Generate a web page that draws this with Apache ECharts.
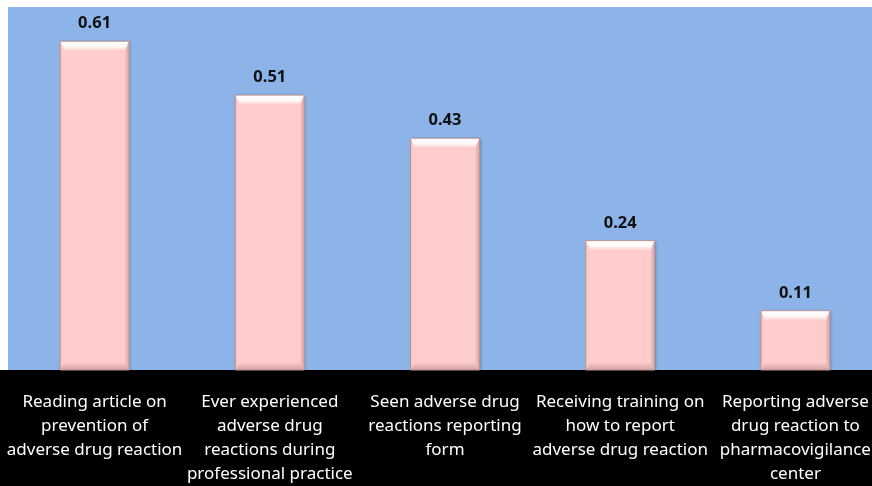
<!DOCTYPE html>
<html>
<head>
<meta charset="utf-8">
<title>Adverse drug reaction awareness</title>
<script src="https://cdn.jsdelivr.net/npm/echarts@6/dist/echarts.min.js"></script>
<style>
  html, body { margin: 0; padding: 0; background: #ffffff; overflow: hidden; }
  /* the plot runs a little past the right edge of the window */
  #chart { width: 883px; height: 486px; }
</style>
</head>
<body>
<div id="chart"></div>
<script>
// Categories (line breaks as shown under each bar)
const categories = [
  'Reading article on\nprevention of\nadverse drug reaction',
  'Ever experienced\nadverse drug\nreactions during\nprofessional practice',
  'Seen adverse drug\nreactions reporting\nform',
  'Receiving training on\nhow to report\nadverse drug reaction',
  'Reporting adverse\ndrug reaction to\npharmacovigilance\ncenter'
];
// Proportion of respondents
const values = [0.61, 0.51, 0.43, 0.24, 0.11];

const BAR_W = 69;
const FONT = '"Noto Sans", "Open Sans", "DejaVu Sans", sans-serif';

const chart = echarts.init(document.getElementById('chart'), null, { renderer: 'canvas' });

// Bevel overlay drawn on top of each bar, positioned through the axes
function renderBevel(params, api) {
  const idx = api.value(0);
  const v = api.value(1);
  const top = api.coord([idx, v]);
  const base = api.coord([idx, 0]);
  const l = top[0] - BAR_W / 2;
  const r = top[0] + BAR_W / 2;
  const t = top[1];
  const b = base[1];
  const bt = 9, bs = 4, bb = 7;
  return {
    type: 'group',
    children: [
      {
        type: 'polygon',
        shape: { points: [[l, t], [r, t], [r - bs, t + bt], [l + bs, t + bt]] },
        style: {
          fill: new echarts.graphic.LinearGradient(0, 0, 0, 1, [
            { offset: 0, color: '#ffffff' },
            { offset: 0.6, color: '#fff8f8' },
            { offset: 1, color: '#ffd6d6' }
          ])
        }
      },
      {
        type: 'polygon',
        shape: { points: [[l, t], [l + bs, t + bt], [l + bs, b - bb], [l, b]] },
        style: {
          fill: new echarts.graphic.LinearGradient(0, 0, 1, 0, [
            { offset: 0, color: '#f2c0c0' },
            { offset: 1, color: '#ffd2d2' }
          ])
        }
      },
      {
        type: 'polygon',
        shape: { points: [[r, t], [r, b], [r - bs, b - bb], [r - bs, t + bt]] },
        style: {
          fill: new echarts.graphic.LinearGradient(0, 0, 1, 0, [
            { offset: 0, color: '#f4c0c0' },
            { offset: 1, color: '#d9a6a6' }
          ])
        }
      },
      {
        type: 'polygon',
        shape: { points: [[l, b], [r, b], [r - bs, b - bb], [l + bs, b - bb]] },
        style: {
          fill: new echarts.graphic.LinearGradient(0, 0, 0, 1, [
            { offset: 0, color: '#f8c6c6' },
            { offset: 1, color: '#d7a3a3' }
          ])
        }
      },
      {
        type: 'rect',
        shape: { x: l, y: t, width: BAR_W, height: b - t },
        style: { fill: 'none', stroke: '#b99494', lineWidth: 1 }
      }
    ]
  };
}

const option = {
  backgroundColor: '#ffffff',
  animation: false,
  graphic: [
    {
      type: 'rect',
      z: -10,
      shape: { x: 8, y: 7, width: 875, height: 363 },
      style: { fill: '#8db4e8' }
    },
    {
      type: 'rect',
      z: -10,
      shape: { x: 0, y: 370, width: 883, height: 116 },
      style: { fill: '#000000' }
    }
  ],
  grid: { left: 7, top: 7, right: 0, height: 363, containLabel: false },
  xAxis: {
    type: 'category',
    data: categories,
    axisLine: { show: false },
    axisTick: { show: false },
    axisLabel: {
      color: '#ffffff',
      fontFamily: FONT,
      fontSize: 17,
      lineHeight: 24,
      margin: 20,
      interval: 0,
      align: 'center',
      verticalAlign: 'top'
    }
  },
  yAxis: {
    type: 'value',
    min: 0,
    max: 0.6735,
    show: false,
    splitLine: { show: false }
  },
  series: [
    {
      type: 'bar',
      data: values,
      barWidth: BAR_W,
      itemStyle: {
        color: '#ffcccc',
        shadowColor: 'rgba(0,0,0,0.35)',
        shadowBlur: 3,
        shadowOffsetX: 1,
        shadowOffsetY: 1
      },
      label: {
        show: true,
        position: 'top',
        distance: 9,
        color: '#111111',
        fontFamily: FONT,
        fontWeight: 'bold',
        fontSize: 16.5,
        formatter: (p) => p.value.toFixed(2)
      }
    },
    {
      type: 'custom',
      data: values.map((v, i) => [i, v]),
      renderItem: renderBevel,
      z: 3,
      silent: true
    }
  ]
};

chart.setOption(option);
</script>
</body>
</html>
